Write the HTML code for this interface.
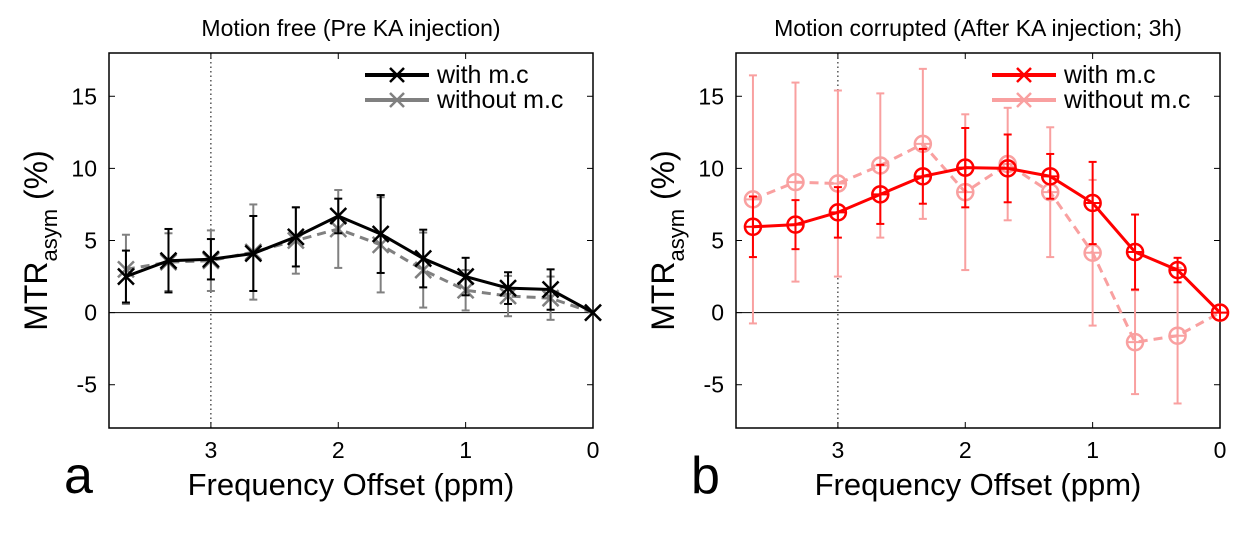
<!DOCTYPE html>
<html><head><meta charset="utf-8"><style>
body{margin:0;background:#fff;}
svg text{font-family:"Liberation Sans",Arial,sans-serif;}
</style></head><body>
<svg id="chart" width="1250" height="544" xmlns="http://www.w3.org/2000/svg"></svg>
<script>
const xCats=[3.667,3.333,3,2.667,2.333,2,1.667,1.333,1,0.667,0.333,0];
const aWith=[2.5,3.6,3.7,4.1,5.25,6.7,5.45,3.75,2.5,1.7,1.6,0];
const aWithErr=[1.8,2.2,1.4,2.6,2.05,1.2,2.7,2.0,1.3,1.1,1.4,0];
const aWithout=[3.0,3.5,3.6,4.2,5.0,5.8,4.7,2.95,1.55,1.15,1.0,0];
const aWithoutErr=[2.4,2.0,2.1,3.3,2.3,2.7,3.3,2.6,1.4,1.4,1.5,0];
const bWith=[5.95,6.1,6.95,8.2,9.45,10.05,10.0,9.45,7.6,4.2,2.95,0];
const bWithErr=[2.1,1.7,1.75,2.05,1.9,2.75,2.35,1.55,2.85,2.6,0.85,0];
const bWithout=[7.85,9.05,8.95,10.2,11.7,8.35,10.3,8.35,4.15,-2.05,-1.6,0];
const bWithoutErr=[8.6,6.9,6.45,5.0,5.2,5.4,3.9,4.5,5.05,3.6,4.7,0];
const yTicks=[-5,0,5,10,15];
const xTicks=[3,2,1,0];
const NS="http://www.w3.org/2000/svg";
const svg=document.getElementById('chart');
function el(tag,attrs,parent,text){const e=document.createElementNS(NS,tag);for(const k in attrs)e.setAttribute(k,attrs[k]);if(text!==undefined)e.textContent=text;(parent||svg).appendChild(e);return e;}
function panel(p){
  const L=p.left,R=p.left+484,T=53,B=428;
  const xs=v=>R-(v-0)/(3.8-0)*(R-L);
  const ys=v=>B-(v+8)/26*(B-T);
  const g=el('g',{});
  
  
  el('rect',{x:L,y:T,width:R-L,height:B-T,fill:'#fff',stroke:'#000','stroke-width':1.5},g);
  el('line',{x1:xs(3),x2:xs(3),y1:T,y2:B,stroke:'#000','stroke-dasharray':'1.5,3','stroke-width':1},g);
  el('line',{x1:L,x2:R,y1:ys(0),y2:ys(0),stroke:'#000','stroke-width':1},g);
  yTicks.forEach(t=>{
    el('line',{x1:L,x2:L+6,y1:ys(t),y2:ys(t),stroke:'#000'},g);
    el('line',{x1:R-6,x2:R,y1:ys(t),y2:ys(t),stroke:'#000'},g);
    const tx=el('text',{x:L-12,y:ys(t)+8,'font-size':23,'text-anchor':'end'},g,String(t));
    
    
  });
  xTicks.forEach(t=>{
    el('line',{x1:xs(t),x2:xs(t),y1:B,y2:B-6,stroke:'#000'},g);
    el('line',{x1:xs(t),x2:xs(t),y1:T,y2:T+6,stroke:'#000'},g);
    const tx=el('text',{x:xs(t),y:B+30,'font-size':23,'text-anchor':'middle'},g,String(t));
    
    
  });
  p.series.slice().reverse().forEach(s=>{
    const sg=el('g',{},g);
    
    
    xCats.forEach((c,i)=>{
      if(s.err[i]>0){
        const x=xs(c),y1=ys(s.vals[i]-s.err[i]),y2=ys(s.vals[i]+s.err[i]);
        el('line',{x1:x,x2:x,y1:y1,y2:y2,stroke:s.color,'stroke-width':2},sg);
        el('line',{x1:x-4,x2:x+4,y1:y1,y2:y1,stroke:s.color,'stroke-width':2},sg);
        el('line',{x1:x-4,x2:x+4,y1:y2,y2:y2,stroke:s.color,'stroke-width':2},sg);
      }
    });
    el('polyline',{points:xCats.map((c,i)=>xs(c)+','+ys(s.vals[i])).join(' '),fill:'none',stroke:s.color,'stroke-width':3,'stroke-dasharray':s.dash||''},sg);
    xCats.forEach((c,i)=>{
      const x=xs(c),y=ys(s.vals[i]);
      if(s.marker==='x'){
        el('path',{d:`M${x-8},${y-8}L${x+8},${y+8}M${x-8},${y+8}L${x+8},${y-8}`,stroke:s.color,'stroke-width':2.5},sg);
      }else{
        el('circle',{cx:x,cy:y,r:8,fill:'none',stroke:s.color,'stroke-width':2.5},sg);
        el('path',{d:`M${x-8},${y}L${x+8},${y}M${x},${y-8}L${x},${y+8}`,stroke:s.color,'stroke-width':2},sg);
      }
    });
  });
  const lx=R-228;
  p.series.forEach((s,i)=>{
    const y=75+i*25;
    const lg=el('g',{},g);
    
    
    el('line',{x1:lx,x2:lx+64,y1:y,y2:y,stroke:s.color,'stroke-width':4},lg);
    el('path',{d:`M${lx+25},${y-7}L${lx+39},${y+7}M${lx+25},${y+7}L${lx+39},${y-7}`,stroke:s.color,'stroke-width':2.5},lg);
    el('text',{x:lx+72,y:y+8,'font-size':25},lg,s.label);
  });
  const ti=el('text',{x:(L+R)/2,y:36,'font-size':23,'text-anchor':'middle'},g,p.title);
  
  const yl=el('text',{transform:`translate(${L-62},${(T+B)/2}) rotate(-90)`,'font-size':32,'text-anchor':'middle'},g);
  
  el('tspan',{},yl,'MTR');el('tspan',{'font-size':22,dy:10},yl,'asym');el('tspan',{dy:-10},yl,' (%)');
  const xl=el('text',{x:(L+R)/2,y:495,'font-size':31,'text-anchor':'middle'},g,'Frequency Offset (ppm)');
  
  const pl=el('text',{x:L-45,y:493,'font-size':52},g,p.letter);
  
}
panel({left:109,name:'panel-a',title:'Motion free (Pre KA injection)',letter:'a',series:[
 {name:'series-with-mc',vals:aWith,err:aWithErr,color:'#000',marker:'x',label:'with m.c'},
 {name:'series-without-mc',vals:aWithout,err:aWithoutErr,color:'#808080',dash:'9,6',marker:'x',label:'without m.c'}]});
panel({left:736,name:'panel-b',title:'Motion corrupted (After KA injection; 3h)',letter:'b',series:[
 {name:'series-with-mc',vals:bWith,err:bWithErr,color:'#f00',marker:'o',label:'with m.c'},
 {name:'series-without-mc',vals:bWithout,err:bWithoutErr,color:'#f9a0a0',dash:'9,6',marker:'o',label:'without m.c'}]});
</script>
</body></html>
